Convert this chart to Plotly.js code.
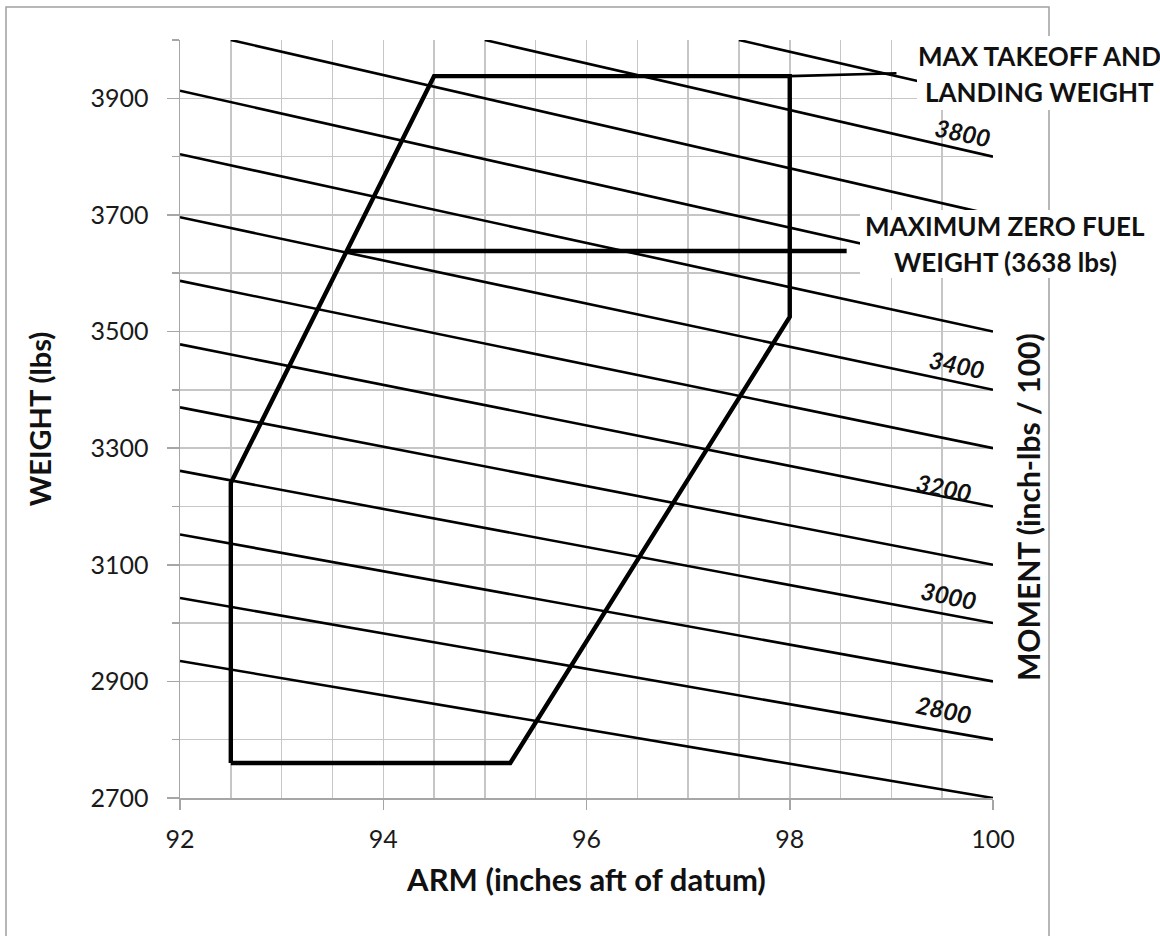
<!DOCTYPE html>
<html>
<head>
<meta charset="utf-8">
<script src="https://cdn.plot.ly/plotly-3.0.1.min.js"></script>
<style>html,body{margin:0;padding:0;background:#fff}#chart{width:1160px;height:936px}</style>
</head>
<body>
<div id="chart"></div>
<script>
// ---- Data ----
const momentValues      = [2700, 2800, 2900, 3000, 3100, 3200, 3300, 3400, 3500, 3600, 3700, 3800, 3900];
const momentStartArm    = [92, 92, 92, 92, 92, 92, 92, 92, 92, 92, 92.5, 95, 97.5];
const momentStartWeight = [2935, 3043, 3152, 3261, 3370, 3478, 3587, 3696, 3804, 3913, 4000, 4000, 4000];
const momentEndArm      = [100, 100, 100, 100, 100, 100, 100, 100, 100, 100, 100, 100, 100];
const momentEndWeight   = [2700, 2800, 2900, 3000, 3100, 3200, 3300, 3400, 3500, 3600, 3700, 3800, 3900];

const envelopeArm    = [92.5, 95.25, 98, 98, 94.5, 92.5, 92.5];
const envelopeWeight = [2760, 2760, 3525, 3938, 3938, 3240, 2760];

const zeroFuelArm    = [93.64, 98.56];
const zeroFuelWeight = [3638, 3638];

const maxWeightLeaderArm    = [98, 99.05];
const maxWeightLeaderWeight = [3938, 3943];

const labeledMoments = [3800, 3400, 3200, 3000, 2800];

const maxWeightLabel = ['MAX TAKEOFF AND', 'LANDING WEIGHT'];
const zeroFuelLabel  = ['MAXIMUM ZERO FUEL', 'WEIGHT (3638 lbs)'];

const xTitle = 'ARM (inches aft of datum)';
const yTitle = 'WEIGHT (lbs)';
const y2Title = 'MOMENT (inch-lbs / 100)';

// ---- Styles / positions ----
const FONT = 'Lato, "Open Sans", sans-serif';
const GRID = '#c6c6c6';
const AXIS = '#a6a6a6';
const momentLabelPos = {3800: [99.70, 3842], 3400: [99.65, 3443], 3200: [99.52, 3232], 3000: [99.57, 3048], 2800: [99.52, 2851]};

const traces = [];
momentValues.forEach((m, i) => {
  traces.push({
    type: 'scatter', mode: 'lines', name: 'Moment ' + m,
    x: [momentStartArm[i], momentEndArm[i]],
    y: [momentStartWeight[i], momentEndWeight[i]],
    line: {color: '#000', width: 2.6}, hoverinfo: 'skip'
  });
});
traces.push({type: 'scatter', mode: 'lines', name: 'CG envelope', x: envelopeArm, y: envelopeWeight,
  line: {color: '#000', width: 4.4}, hoverinfo: 'skip'});
traces.push({type: 'scatter', mode: 'lines', name: 'Max zero fuel weight', x: zeroFuelArm, y: zeroFuelWeight,
  line: {color: '#000', width: 4.4}, hoverinfo: 'skip'});
traces.push({type: 'scatter', mode: 'lines', name: 'Max weight leader', x: maxWeightLeaderArm, y: maxWeightLeaderWeight,
  line: {color: '#000', width: 2.6}, hoverinfo: 'skip'});

// pixel helpers for paper coordinates (plot area 180..993 x, 40..798 y)
const px = p => (p - 180) / 813;
const py = p => (798 - p) / 758;

const annotations = [];
labeledMoments.forEach(m => {
  annotations.push({xref: 'x', yref: 'y', x: momentLabelPos[m][0], y: momentLabelPos[m][1],
    xanchor: 'center', yanchor: 'middle',
    text: String(m), showarrow: false, textangle: 12,
    font: {family: FONT, size: 24, color: '#111', style: 'italic', weight: 700}});
});
const labelFont = {family: FONT, size: 26, color: '#111', weight: 700};
function paperLabel(text, x, y, angle, font) {
  return {xref: 'paper', yref: 'paper', x: px(x), y: py(y), xanchor: 'center', yanchor: 'middle',
    text: text, showarrow: false, textangle: angle || 0, font: font || labelFont};
}
annotations.push(paperLabel(maxWeightLabel[0], 1039, 56.5));
annotations.push(paperLabel(maxWeightLabel[1], 1039, 91.5));
annotations.push(paperLabel(zeroFuelLabel[0], 1005, 226));
annotations.push(paperLabel(zeroFuelLabel[1], 1005, 262));
annotations.push(paperLabel(y2Title, 1028, 507, -90, {family: FONT, size: 30, color: '#111', weight: 700}));

const shapes = [
  {type: 'rect', xref: 'paper', yref: 'paper', x0: px(6), x1: px(1049), y0: py(990), y1: py(7),
    line: {color: '#a0a0a0', width: 1.5}, fillcolor: 'rgba(0,0,0,0)', layer: 'above'},
  {type: 'rect', xref: 'paper', yref: 'paper', x0: px(917), x1: px(1165), y0: py(110), y1: py(36),
    line: {width: 0}, fillcolor: '#fff', layer: 'above'},
  {type: 'rect', xref: 'paper', yref: 'paper', x0: px(860), x1: px(1165), y0: py(278), y1: py(210),
    line: {width: 0}, fillcolor: '#fff', layer: 'above'}
];

const layout = {
  width: 1160, height: 936,
  margin: {l: 180, r: 167, t: 40, b: 138},
  paper_bgcolor: '#fff', plot_bgcolor: '#fff',
  showlegend: false,
  font: {family: FONT, size: 25, color: '#1a1a1a'},
  xaxis: {
    range: [92, 100], tick0: 92, dtick: 2, ticks: 'outside', ticklen: 10, tickwidth: 1.5, tickcolor: AXIS,
    ticklabelstandoff: 8,
    showline: true, linecolor: AXIS, linewidth: 1.5, zeroline: false,
    showgrid: true, gridcolor: GRID, gridwidth: 1.5,
    minor: {tick0: 92, dtick: 0.5, showgrid: true, gridcolor: GRID, gridwidth: 1.5, ticks: ''},
    tickfont: {family: FONT, size: 25, color: '#1a1a1a'},
    title: {text: xTitle, standoff: 18, font: {family: FONT, size: 31, color: '#111', weight: 700}}
  },
  yaxis: {
    range: [2700, 4000], tick0: 2700, dtick: 200, ticks: 'outside', ticklen: 12, tickwidth: 1.5, tickcolor: AXIS,
    ticklabelstandoff: 13,
    showline: true, linecolor: AXIS, linewidth: 1.5, zeroline: false,
    showgrid: true, gridcolor: GRID, gridwidth: 1.5,
    minor: {tick0: 2700, dtick: 100, showgrid: true, gridcolor: GRID, gridwidth: 1.5, ticks: 'outside', ticklen: 7, tickcolor: AXIS, tickwidth: 1.5},
    tickfont: {family: FONT, size: 25, color: '#1a1a1a'},
    title: {text: yTitle, standoff: 30, font: {family: FONT, size: 29, color: '#111', weight: 700}}
  },
  annotations: annotations,
  shapes: shapes
};

Plotly.newPlot('chart', traces, layout, {staticPlot: true, displayModeBar: false});
</script>
</body>
</html>
